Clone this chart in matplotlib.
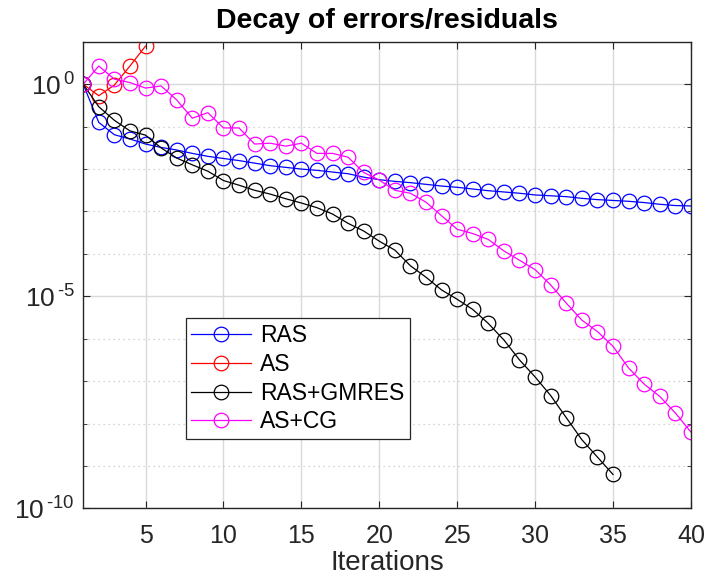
import numpy as np
import matplotlib
matplotlib.use("Agg")
import matplotlib.pyplot as plt
from matplotlib.ticker import FixedLocator, NullFormatter, FuncFormatter

plt.rcParams['font.family'] = ['Liberation Sans', 'DejaVu Sans']
plt.rcParams['mathtext.fontset'] = 'custom'
plt.rcParams['mathtext.rm'] = 'Liberation Sans'

# exponents (log10)
log_ras = [0, -0.90, -1.19, -1.29, -1.41, -1.49, -1.55, -1.63, -1.70, -1.75,
           -1.80, -1.86, -1.92, -1.96, -2.00, -2.03, -2.07, -2.11, -2.19, -2.25,
           -2.29, -2.32, -2.36, -2.40, -2.43, -2.47, -2.51, -2.54, -2.57, -2.61,
           -2.63, -2.65, -2.69, -2.72, -2.74, -2.76, -2.79, -2.83, -2.86, -2.87]
log_as = [0, -0.27, -0.02, 0.43, 0.90]
log_ras_gmres = [0, -0.53, -0.85, -1.10, -1.20, -1.50, -1.74, -1.90, -2.05, -2.27,
                 -2.38, -2.50, -2.59, -2.70, -2.80, -2.91, -3.06, -3.28, -3.46, -3.70,
                 -3.91, -4.28, -4.55, -4.85, -5.07, -5.31, -5.64, -6.03, -6.50, -6.90,
                 -7.34, -7.86, -8.38, -8.79, -9.20]
log_as_cg = [0, 0.43, 0.12, 0.04, -0.09, -0.04, -0.37, -0.80, -0.67, -1.03,
             -1.03, -1.41, -1.39, -1.46, -1.39, -1.63, -1.63, -1.72, -2.08, -2.26,
             -2.50, -2.57, -2.78, -3.10, -3.42, -3.52, -3.66, -3.93, -4.15, -4.37,
             -4.73, -5.16, -5.56, -5.83, -6.18, -6.69, -7.07, -7.36, -7.75, -8.20]

series = [("RAS", log_ras, (0, 0, 1)),
          ("AS", log_as, (1, 0, 0)),
          ("RAS+GMRES", log_ras_gmres, (0, 0, 0)),
          ("AS+CG", log_as_cg, (1, 0, 1))]

x_ticks = [5, 10, 15, 20, 25, 30, 35, 40]
y_major = [1e-10, 1e-5, 1e0]

axcol = (0.15, 0.15, 0.15)


def exp_label(v, pos):
    e = int(round(np.log10(v)))
    s = str(abs(e))
    if e < 0:
        s = r'\text{-}' + s
    return r'$\mathregular{10^{\,%s}}$' % s


fig = plt.figure(figsize=(7.05, 5.81), dpi=100)
ax = fig.add_axes([0.118, 0.125, 0.862, 0.803])

for name, vals, col in series:
    it = np.arange(1, len(vals) + 1)
    ax.semilogy(it, 10.0 ** np.array(vals), '-o', color=col, label=name,
                lw=0.9, ms=10.5, mfc='none', mew=0.9)

ax.set_xlim(1, 40)
ax.set_ylim(1e-10, 1e1)
ax.xaxis.set_major_locator(FixedLocator(x_ticks))
ax.yaxis.set_major_locator(FixedLocator(y_major))
ax.yaxis.set_major_formatter(FuncFormatter(exp_label))
ax.yaxis.set_minor_locator(FixedLocator(10.0 ** np.arange(-10, 2)))
ax.yaxis.set_minor_formatter(NullFormatter())

ax.grid(True, which='major', color=(0.85, 0.85, 0.85), lw=1.0, ls='-')
ax.grid(True, which='minor', axis='y', color=(0.78, 0.78, 0.78), lw=0.9, ls=(0, (1, 3)))
ax.set_axisbelow(True)

ax.tick_params(which='both', direction='in', top=True, right=True,
               colors=axcol, labelsize=18, length=5)
ax.tick_params(which='minor', length=3)
ax.tick_params(axis='x', pad=11)
ax.tick_params(axis='y', labelsize=19, pad=6)
for sp in ax.spines.values():
    sp.set_color(axcol)
    sp.set_linewidth(1.0)

ax.set_title("Decay of errors/residuals", fontsize=20.5, fontweight='bold', pad=10)
ax.set_xlabel("Iterations", fontsize=20, color=axcol, labelpad=2)

leg = ax.legend(loc='upper left', bbox_to_anchor=(0.1685, 0.407), borderaxespad=0,
                fontsize=16.5, fancybox=False, framealpha=1, edgecolor=axcol,
                handlelength=2.6, handletextpad=0.4, labelspacing=0.25,
                borderpad=0.25)
leg.get_frame().set_linewidth(0.9)

fig.savefig("out.png", dpi=100)
